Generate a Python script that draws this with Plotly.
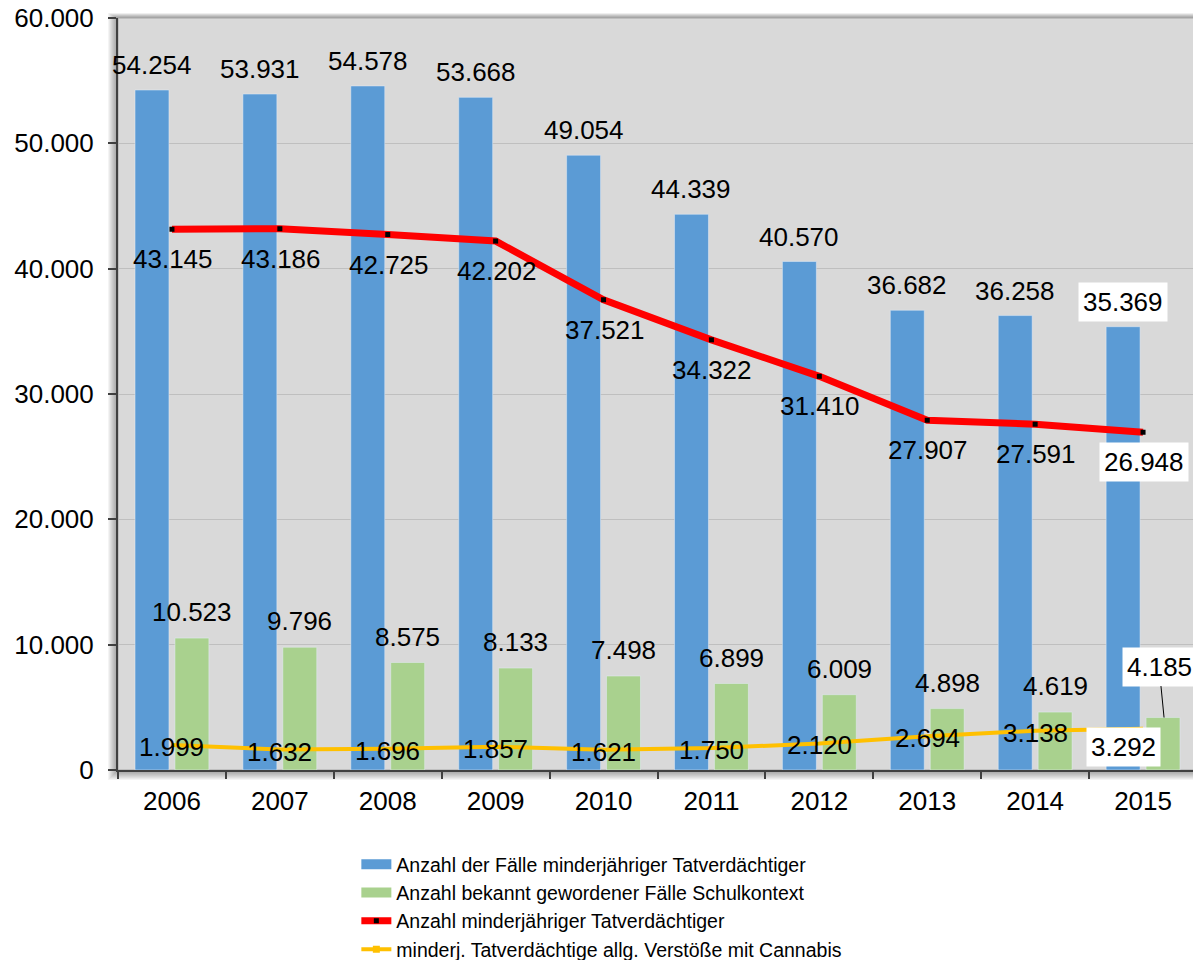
import plotly.graph_objects as go

years = ['2006', '2007', '2008', '2009', '2010', '2011', '2012', '2013', '2014', '2015']
faelle = [54254, 53931, 54578, 53668, 49054, 44339, 40570, 36682, 36258, 35369]
schulkontext = [10523, 9796, 8575, 8133, 7498, 6899, 6009, 4898, 4619, 4185]
tatverdaechtige = [43145, 43186, 42725, 42202, 37521, 34322, 31410, 27907, 27591, 26948]
cannabis = [1999, 1632, 1696, 1857, 1621, 1750, 2120, 2694, 3138, 3292]

names = ['Anzahl der Fälle minderjähriger Tatverdächtiger',
         'Anzahl bekannt gewordener Fälle Schulkontext',
         'Anzahl minderjähriger Tatverdächtiger',
         'minderj. Tatverdächtige allg. Verstöße mit Cannabis']

BLUE = '#5B9BD5'
GREEN = '#A9D18E'
RED = '#FF0000'
YELLOW = '#FFC000'
FONT = 'Liberation Sans, Arial, sans-serif'


def de(v):
    return f"{v:,}".replace(',', '.')


fig = go.Figure()
fig.add_trace(go.Bar(x=years, y=faelle, marker_color=BLUE, showlegend=False,
                     name=names[0]))
fig.add_trace(go.Bar(x=years, y=schulkontext, marker_color=GREEN, showlegend=False,
                     name=names[1]))
fig.add_trace(go.Scatter(x=years, y=tatverdaechtige, mode='lines+markers',
                         line=dict(color=RED, width=7),
                         marker=dict(symbol='square', size=5, color='black'),
                         showlegend=False, name=names[2]))
fig.add_trace(go.Scatter(x=years, y=cannabis, mode='lines',
                         line=dict(color=YELLOW, width=4),
                         showlegend=False, name=names[3]))

# legend entries
fig.add_trace(go.Scatter(x=[None], y=[None], mode='lines', name=names[0],
                         line=dict(color=BLUE, width=10)))
fig.add_trace(go.Scatter(x=[None], y=[None], mode='lines', name=names[1],
                         line=dict(color=GREEN, width=10)))
fig.add_trace(go.Scatter(x=[None], y=[None], mode='lines+markers', name=names[2],
                         line=dict(color=RED, width=7),
                         marker=dict(symbol='square', size=5, color='black')))
fig.add_trace(go.Scatter(x=[None], y=[None], mode='lines+markers', name=names[3],
                         line=dict(color=YELLOW, width=4),
                         marker=dict(symbol='square', size=7, color=YELLOW)))

ann = []
LF = dict(family=FONT, size=26, color='black')
n = len(years)
for i in range(n):
    last = (i == n - 1)
    box = 'white' if last else 'rgba(0,0,0,0)'
    ann.append(dict(x=i, y=faelle[i], text=de(faelle[i]), showarrow=False,
                    xshift=-20, yshift=25, font=LF, bgcolor=box, borderpad=4))
    ann.append(dict(x=i, y=tatverdaechtige[i], text=de(tatverdaechtige[i]),
                    showarrow=False, xshift=1, yshift=-30, font=LF,
                    bgcolor=box, borderpad=4))
    if last:
        ann.append(dict(x=i, y=schulkontext[i], text=de(schulkontext[i]),
                        showarrow=True, arrowhead=0, arrowwidth=1, arrowcolor='black',
                        ax=-5, ay=-51, standoff=0, xshift=21, font=LF,
                        bgcolor='white', borderpad=4))
        ann.append(dict(x=i, y=cannabis[i], text=de(cannabis[i]), showarrow=False,
                        xshift=-20, yshift=-18, font=LF, bgcolor='white', borderpad=4))
    else:
        ann.append(dict(x=i, y=schulkontext[i], text=de(schulkontext[i]),
                        showarrow=False, xshift=20, yshift=26, font=LF))
        ann.append(dict(x=i, y=cannabis[i], text=de(cannabis[i]), showarrow=False,
                        xshift=0, yshift=-2, font=LF))

PW, PH = 1079, 752
shapes = []
for k in range(10, 0, -1):
    shapes.append(dict(type='rect', xref='paper', yref='paper', layer='below',
                       x0=-k / PW, x1=1 + (k * 0.4) / PW,
                       y0=-k / PH, y1=1 + (k * 0.5) / PH,
                       fillcolor='rgba(0,0,0,0.045)', line=dict(width=0)))
shapes.append(dict(type='rect', xref='paper', yref='paper', layer='below',
                   x0=0, x1=1, y0=0, y1=1, fillcolor='#D9D9D9',
                   line=dict(color='#A6A6A6', width=1)))

fig.update_layout(
    width=1193, height=952,
    margin=dict(l=110, r=4, t=10, b=190, autoexpand=False),
    paper_bgcolor='white', plot_bgcolor='rgba(0,0,0,0)',
    barmode='group', bargap=0.26, bargroupgap=0.15,
    separators=',.',
    font=dict(family=FONT, size=26, color='black'),
    showlegend=True,
    legend=dict(x=0.2209, xanchor='left', y=-0.0997, yanchor='top',
                font=dict(family=FONT, size=19.5, color='black'),
                bgcolor='rgba(0,0,0,0)', tracegroupgap=0, itemwidth=30),
    annotations=ann, shapes=shapes,
)
fig.update_xaxes(type='category', categoryorder='array', categoryarray=years,
                 range=[-0.5, len(years) - 0.5], autorange=False,
                 tickson='boundaries', ticks='outside', ticklen=7,
                 tickwidth=1.5, tickcolor='#404040', showline=True, linecolor='#404040',
                 linewidth=1.5, showgrid=False, tickfont=dict(size=26),
                 ticklabelstandoff=7, tickangle=0, automargin=False,
                 ticklabeloverflow='allow')
fig.update_yaxes(range=[0, 60000], dtick=10000, tickformat=',d', ticks='outside',
                 ticklen=8, tickwidth=1.5, tickcolor='#404040', showline=True,
                 linecolor='#404040', linewidth=2, showgrid=True, gridcolor='#BFBFBF',
                 gridwidth=1, zeroline=False, tickfont=dict(size=26),
                 ticklabelstandoff=9, automargin=False, ticklabeloverflow='allow')

fig.write_html('out.html')
